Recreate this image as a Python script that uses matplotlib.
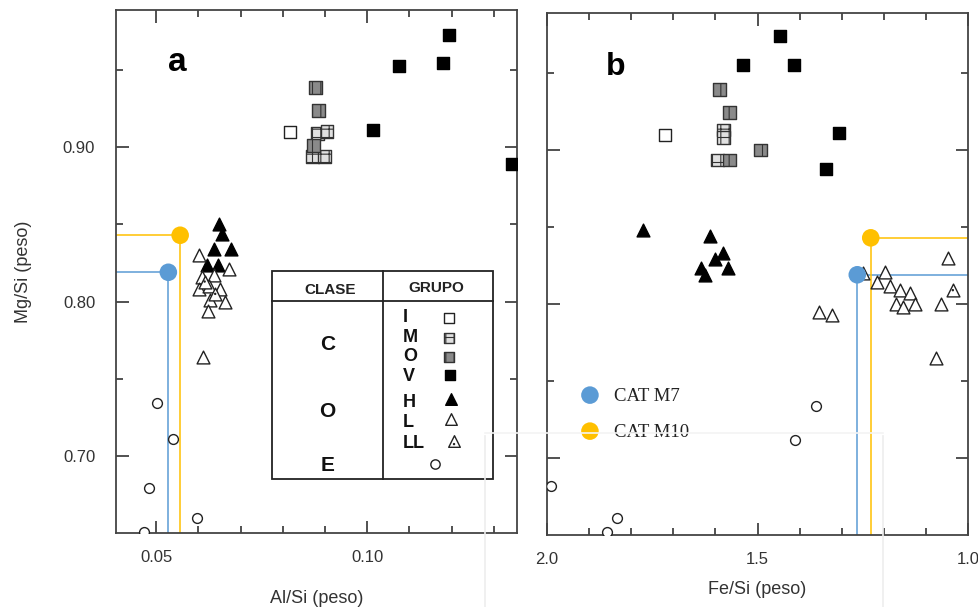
import matplotlib
matplotlib.use("Agg")
import matplotlib.pyplot as plt
from matplotlib.ticker import MultipleLocator, FixedLocator
from matplotlib.patches import Rectangle
from matplotlib.lines import Line2D

plt.rcParams['font.family'] = ['Liberation Sans', 'DejaVu Sans']
plt.rcParams['hatch.linewidth'] = 0.8

# ---------------- data: panel a (Al/Si vs Mg/Si) ----------------
a_I_x = [0.0818]
a_I_y = [0.910]
a_M_x = [0.0882, 0.0905, 0.0870, 0.0898]
a_M_y = [0.909, 0.910, 0.894, 0.894]
a_O_x = [0.0877, 0.0884, 0.0872]
a_O_y = [0.939, 0.924, 0.901]
a_V_x = [0.1194, 0.1076, 0.1180, 0.1014, 0.1344]
a_V_y = [0.973, 0.953, 0.9545, 0.911, 0.889]
a_H_x = [0.0649, 0.0656, 0.0637, 0.0678, 0.0621, 0.0647]
a_H_y = [0.8506, 0.8435, 0.834, 0.834, 0.824, 0.824]
a_L_x = [0.0602, 0.0673, 0.0609, 0.0637, 0.0602, 0.0626, 0.0652, 0.0628, 0.0663, 0.0623, 0.0611]
a_L_y = [0.8305, 0.8214, 0.816, 0.8175, 0.8084, 0.810, 0.808, 0.801, 0.800, 0.794, 0.764]
a_LL_x = [0.0615, 0.0640]
a_LL_y = [0.813, 0.805]
a_E_x = [0.0502, 0.0540, 0.0483, 0.0597, 0.0472]
a_E_y = [0.734, 0.711, 0.679, 0.660, 0.6506]

# ---------------- data: panel b (Fe/Si vs Mg/Si) ----------------
b_I_x = [1.720]
b_I_y = [0.910]
b_M_x = [1.581, 1.581, 1.595]
b_M_y = [0.913, 0.908, 0.8935]
b_O_x = [1.590, 1.566, 1.492, 1.566]
b_O_y = [0.9395, 0.9246, 0.900, 0.8935]
b_V_x = [1.446, 1.535, 1.414, 1.306, 1.337]
b_V_y = [0.974, 0.955, 0.955, 0.911, 0.888]
b_H_x = [1.771, 1.614, 1.581, 1.600, 1.634, 1.569, 1.624]
b_H_y = [0.848, 0.844, 0.833, 0.829, 0.8236, 0.8236, 0.819]
b_L_x = [1.048, 1.198, 1.217, 1.186, 1.161, 1.137, 1.171, 1.154, 1.125, 1.065, 1.075, 1.354, 1.323, 1.250]
b_L_y = [0.830, 0.821, 0.814, 0.812, 0.809, 0.807, 0.800, 0.798, 0.800, 0.800, 0.765, 0.795, 0.7926, 0.820]
b_LL_x = [1.036]
b_LL_y = [0.809]
b_E_x = [1.361, 1.412, 1.990, 1.834, 1.858]
b_E_y = [0.734, 0.712, 0.682, 0.661, 0.652]

# ---------------- CAT samples ----------------
cat_names = ["CAT M7", "CAT M10"]
cat_colors = ["#5B9BD5", "#FFC000"]
cat_al = [0.0529, 0.0557]
cat_fe = [1.263, 1.231]
cat_mg = [0.819, 0.843]

W, H = 979, 607
fig = plt.figure(figsize=(W / 100, H / 100), dpi=100)

def axrect(l, t, r, b):
    return [l / W, 1 - b / H, (r - l) / W, (b - t) / H]

axA = fig.add_axes(axrect(116, 10, 517, 533))
axB = fig.add_axes(axrect(547, 13, 968, 535))

SQ = 85
TRI = 85
CIRC = 50

def groups(ax, I, M, O, V, Hh, L, LL, E, z=3):
    ax.scatter(*I, marker='s', s=SQ, facecolor='white', edgecolor='#222', linewidth=1.0, zorder=z)
    ax.scatter(*M, marker='s', s=SQ, facecolor='#e0e0e0', edgecolor='#333', hatch='++', linewidth=1.0, zorder=z)
    ax.scatter(*O, marker='s', s=SQ, facecolor='#8a8a8a', edgecolor='#333', hatch='||', linewidth=1.0, zorder=z)
    ax.scatter(*V, marker='s', s=SQ, facecolor='black', edgecolor='black', linewidth=1.0, zorder=z)
    ax.scatter(*Hh, marker='^', s=TRI, facecolor='black', edgecolor='black', linewidth=1.0, zorder=z)
    ax.scatter(*L, marker='^', s=TRI, facecolor='white', edgecolor='#222', linewidth=1.0, zorder=z)
    ax.scatter(*LL, marker='^', s=TRI, facecolor='white', edgecolor='#222', linewidth=1.0, zorder=z)
    ax.scatter(*LL, marker='o', s=3, facecolor='#222', edgecolor='none', zorder=z + 0.1)
    ax.scatter(*E, marker='o', s=CIRC, facecolor='white', edgecolor='#222', linewidth=1.0, zorder=z)

groups(axA, (a_I_x, a_I_y), (a_M_x, a_M_y), (a_O_x, a_O_y), (a_V_x, a_V_y),
       (a_H_x, a_H_y), (a_L_x, a_L_y), (a_LL_x, a_LL_y), (a_E_x, a_E_y))
groups(axB, (b_I_x, b_I_y), (b_M_x, b_M_y), (b_O_x, b_O_y), (b_V_x, b_V_y),
       (b_H_x, b_H_y), (b_L_x, b_L_y), (b_LL_x, b_LL_y), (b_E_x, b_E_y))

# limits
axA.set_xlim(0.0405, 0.1355)
axB.set_xlim(2.0, 1.0)
for ax in (axA, axB):
    ax.set_ylim(0.650, 0.989)

# CAT guide lines and dots
for i in range(2):
    c = cat_colors[i]
    axA.plot([axA.get_xlim()[0], cat_al[i]], [cat_mg[i], cat_mg[i]], color=c, lw=1.1, zorder=2)
    axA.plot([cat_al[i], cat_al[i]], [0.650, cat_mg[i]], color=c, lw=1.1, zorder=2)
    axA.scatter([cat_al[i]], [cat_mg[i]], s=160, color=c, zorder=5, edgecolor='none')
    axB.plot([cat_fe[i], 1.0], [cat_mg[i], cat_mg[i]], color=c, lw=1.1, zorder=2)
    axB.plot([cat_fe[i], cat_fe[i]], [0.650, cat_mg[i]], color=c, lw=1.1, zorder=2)
    axB.scatter([cat_fe[i]], [cat_mg[i]], s=160, color=c, zorder=5, edgecolor='none')

# ticks
for ax in (axA, axB):
    ax.yaxis.set_major_locator(FixedLocator([0.70, 0.80, 0.90]))
    ax.yaxis.set_minor_locator(FixedLocator([0.75, 0.85, 0.95]))
    ax.tick_params(which='both', direction='in', top=True, right=True, color='#333',
                   labelsize=12, labelcolor='#333', width=1.2)
    ax.tick_params(which='major', length=9, pad=12)
    ax.tick_params(which='minor', length=5)
    for s in ax.spines.values():
        s.set_linewidth(1.3)
        s.set_color('#444')

axA.xaxis.set_major_locator(FixedLocator([0.05, 0.10]))
axA.xaxis.set_minor_locator(MultipleLocator(0.01))
axA.set_xticklabels(['0.05', '0.10'])
axA.set_yticklabels(['0.70', '0.80', '0.90'])
axB.xaxis.set_major_locator(FixedLocator([2.0, 1.5, 1.0]))
axB.xaxis.set_minor_locator(MultipleLocator(0.1))
axB.set_xticklabels(['2.0', '1.5', '1.0'])
axB.set_yticklabels([])
axA.tick_params(axis='y', pad=15)

axA.set_xlabel('Al/Si (peso)', fontsize=13, color='#333', labelpad=18)
axB.set_xlabel('Fe/Si (peso)', fontsize=13, color='#333', labelpad=10)
axA.set_ylabel('Mg/Si (peso)', fontsize=13, color='#333', labelpad=22)

axA.text(0.153, 0.900, 'a', transform=axA.transAxes, fontsize=24, fontweight='bold', ha='center', va='center')
axB.text(0.162, 0.897, 'b', transform=axB.transAxes, fontsize=23, fontweight='bold', ha='center', va='center')

# ---------------- table legend in panel a ----------------
T = axA.transAxes
tl, tr, tm = 0.389, 0.940, 0.666
tb, tt, th = 0.103, 0.501, 0.4436
axA.add_patch(Rectangle((tl, tb), tr - tl, tt - tb, transform=T, fill=False, lw=1.3, edgecolor='#222', zorder=6))
axA.add_line(Line2D([tm, tm], [tb, tt], transform=T, lw=1.3, color='#222', zorder=6))
axA.add_line(Line2D([tl, tr], [th, th], transform=T, lw=1.3, color='#222', zorder=6))
axA.text(0.534, 0.465, 'CLASE', transform=T, fontsize=11, fontweight='bold', ha='center', va='center', color='#222')
axA.text(0.800, 0.468, 'GRUPO', transform=T, fontsize=11, fontweight='bold', ha='center', va='center', color='#222')
class_labels = ['C', 'O', 'E']
class_ypos = [0.361, 0.233, 0.130]
for lab, yy in zip(class_labels, class_ypos):
    axA.text(0.528, yy, lab, transform=T, fontsize=15, fontweight='bold', ha='center', va='center', color='#111')
group_labels = ['I', 'M', 'O', 'V', 'H', 'L', 'LL']
group_ypos = [0.413, 0.374, 0.337, 0.300, 0.249, 0.212, 0.172]
for lab, yy in zip(group_labels, group_ypos):
    axA.text(0.716, yy, lab, transform=T, fontsize=13, fontweight='bold', ha='left', va='center', color='#111')
ks = 55
axA.scatter([0.830], [0.411], transform=T, marker='s', s=ks, facecolor='white', edgecolor='#222', lw=1.0, zorder=7)
axA.scatter([0.830], [0.373], transform=T, marker='s', s=ks, facecolor='#e0e0e0', edgecolor='#333', hatch='++', lw=1.0, zorder=7)
axA.scatter([0.830], [0.3365], transform=T, marker='s', s=ks, facecolor='#8a8a8a', edgecolor='#333', hatch='||', lw=1.0, zorder=7)
axA.scatter([0.833], [0.302], transform=T, marker='s', s=ks, facecolor='black', edgecolor='black', lw=1.0, zorder=7)
axA.scatter([0.835], [0.256], transform=T, marker='^', s=70, facecolor='black', edgecolor='black', lw=1.0, zorder=7)
axA.scatter([0.835], [0.218], transform=T, marker='^', s=70, facecolor='white', edgecolor='#222', lw=1.0, zorder=7)
axA.scatter([0.843], [0.175], transform=T, marker='^', s=70, facecolor='white', edgecolor='#222', lw=1.0, zorder=7)
axA.scatter([0.843], [0.170], transform=T, marker='o', s=3, facecolor='#222', edgecolor='none', zorder=7.1)
axA.scatter([0.795], [0.132], transform=T, marker='o', s=45, facecolor='white', edgecolor='#222', lw=1.0, zorder=7)

# ---------------- CAT legend in panel b ----------------
TB = axB.transAxes
leg_y = [0.268, 0.199]
for i in range(2):
    axB.scatter([0.102], [leg_y[i]], transform=TB, s=160, color=cat_colors[i], edgecolor='none', zorder=7)
    axB.text(0.158, leg_y[i] - 0.002, cat_names[i], transform=TB, fontsize=13.5,
             family=['Liberation Serif', 'DejaVu Serif'], ha='left', va='center', color='#222', zorder=8)

# faint screenshot overlay frame
for xs, ys, col in [([485, 485], [436, 607], '#ededed'), ([883, 883], [436, 607], '#ededed'),
                    ([485, 883], [433, 433], '#f4f4f4')]:
    fig.add_artist(Line2D([v / W for v in xs], [1 - v / H for v in ys], transform=fig.transFigure,
                          color=col, lw=1.2, zorder=0.5))

fig.savefig('out.png', dpi=100)
